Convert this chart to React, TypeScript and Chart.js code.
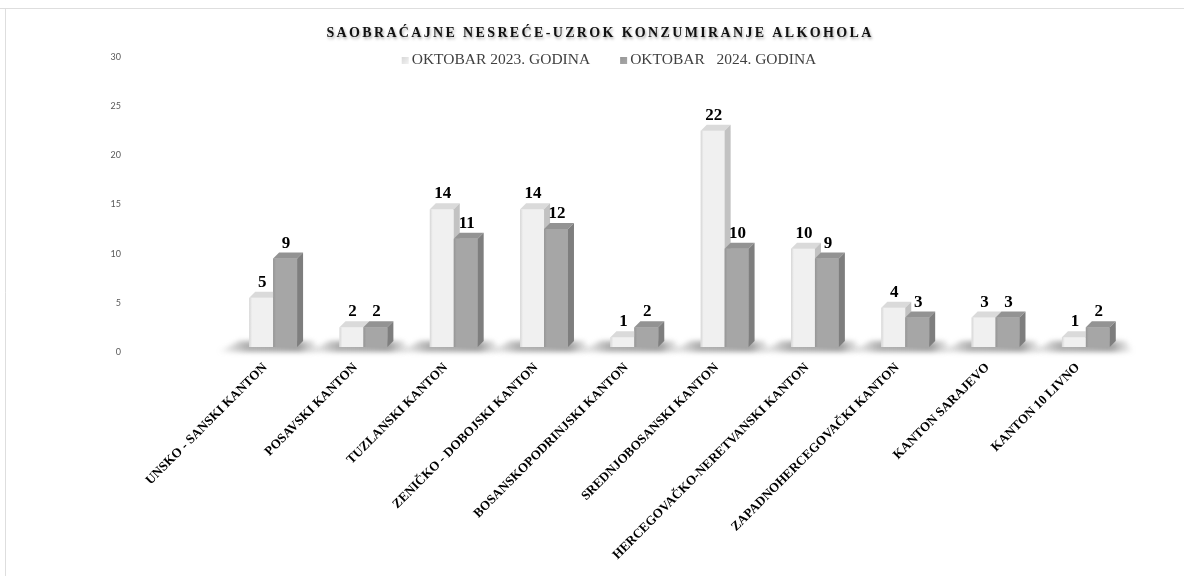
import React, { useEffect, useRef } from 'react';
import { Chart, registerables } from 'chart.js';

Chart.register(...registerables);

// ---- data ----
const CATEGORIES = [
  'UNSKO - SANSKI KANTON',
  'POSAVSKI KANTON',
  'TUZLANSKI KANTON',
  'ZENIČKO - DOBOJSKI KANTON',
  'BOSANSKOPODRINJSKI KANTON',
  'SREDNJOBOSANSKI KANTON',
  'HERCEGOVAČKO-NERETVANSKI KANTON',
  'ZAPADNOHERCEGOVAČKI KANTON',
  'KANTON SARAJEVO',
  'KANTON 10 LIVNO',
];
const OCT_2023 = [5, 2, 14, 14, 1, 22, 10, 4, 3, 1];
const OCT_2024 = [9, 2, 11, 12, 2, 10, 9, 3, 3, 2];
const SERIES_LABELS = ['OKTOBAR 2023. GODINA', 'OKTOBAR   2024. GODINA'];
const TITLE = 'SAOBRAĆAJNE NESREĆE-UZROK KONZUMIRANJE ALKOHOLA';
const Y_MIN = 0;
const Y_MAX = 30;
const Y_STEP = 5;

// ---- styles ----
const W = 1184;
const H = 576;
const FRONT = ['#f0f0f0', '#a6a6a6'];
const FRONT_EDGE = ['#d6d6d6', '#959595'];
const TOP = ['#dadada', '#939393'];
const SIDE = ['#c2c2c2', '#7e7e7e'];
const DEPTH_X = 6;
const DEPTH_Y = 6;
const SERIF = '"Liberation Serif", "DejaVu Serif", serif';

const chromePlugin = {
  id: 'chrome',
  beforeDraw(chart: any) {
    const ctx = chart.ctx;
    ctx.save();
    ctx.fillStyle = '#ffffff';
    ctx.fillRect(0, 0, W, H);
    ctx.strokeStyle = '#dedede';
    ctx.lineWidth = 1;
    ctx.beginPath();
    ctx.moveTo(0, 8.5);
    ctx.lineTo(W, 8.5);
    ctx.moveTo(5.5, 8.5);
    ctx.lineTo(5.5, H);
    ctx.stroke();
    ctx.restore();
  },
  afterDraw(chart: any) {
    const ctx = chart.ctx;
    // title
    ctx.save();
    ctx.font = `bold 14px ${SERIF}`;
    (ctx as any).letterSpacing = '2.35px';
    ctx.textAlign = 'center';
    ctx.textBaseline = 'middle';
    ctx.fillStyle = '#111111';
    ctx.shadowColor = 'rgba(0,0,0,0.35)';
    ctx.shadowBlur = 3;
    ctx.shadowOffsetX = 1;
    ctx.shadowOffsetY = 2;
    ctx.fillText(TITLE, 600, 33);
    ctx.restore();

    // legend
    ctx.save();
    ctx.font = `15.5px ${SERIF}`;
    ctx.textBaseline = 'middle';
    ctx.textAlign = 'left';
    const box = 7;
    const boxGap = 3;
    const itemGap = 30;
    const ds = chart.data.datasets;
    const widths = ds.map((d: any) => box + boxGap + ctx.measureText(d.label).width);
    const total = widths.reduce((a: number, b: number) => a + b, 0) + itemGap * (ds.length - 1);
    let x = 609 - total / 2;
    const yc = 59.5;
    ds.forEach((d: any, i: number) => {
      const g = ctx.createLinearGradient(x, yc - box / 2, x + box, yc + box / 2);
      g.addColorStop(0, FRONT_EDGE[i]);
      g.addColorStop(1, FRONT[i]);
      ctx.fillStyle = g;
      ctx.fillRect(x, yc - box / 2 + 1, box, box);
      ctx.fillStyle = '#404040';
      ctx.fillText(d.label, x + box + boxGap, yc);
      x += widths[i] + itemGap;
    });
    ctx.restore();
  },
};

const bars3dPlugin = {
  id: 'bars3d',
  beforeDatasetsDraw(chart: any) {
    const ctx = chart.ctx;
    const m0 = chart.getDatasetMeta(0).data;
    const m1 = chart.getDatasetMeta(1).data;
    ctx.save();
    ctx.filter = 'blur(2.5px)';
    for (let i = 0; i < m0.length; i++) {
      const a = m0[i].getProps(['x', 'base', 'width'], true);
      const b = m1[i].getProps(['x', 'base', 'width'], true);
      const left = a.x - a.width / 2;
      const right = b.x + b.width / 2 + DEPTH_X;
      const base = a.base;
      const g = ctx.createLinearGradient(left - 32, 0, right + 18, 0);
      const span = right + 18 - (left - 32);
      g.addColorStop(0, 'rgba(120,120,120,0)');
      g.addColorStop(30 / span, 'rgba(110,110,110,0.55)');
      g.addColorStop((span - 22) / span, 'rgba(100,100,100,0.6)');
      g.addColorStop(1, 'rgba(120,120,120,0)');
      ctx.fillStyle = g;
      ctx.beginPath();
      ctx.moveTo(left - 32, base + 5);
      ctx.lineTo(left - 10, base - 6);
      ctx.lineTo(right + 10, base - 6);
      ctx.lineTo(right + 18, base + 5);
      ctx.closePath();
      ctx.fill();
    }
    ctx.restore();
  },
  afterDatasetsDraw(chart: any) {
    const ctx = chart.ctx;
    const n = chart.data.labels.length;
    ctx.save();
    for (let i = 0; i < n; i++) {
      for (let d = 0; d < chart.data.datasets.length; d++) {
        const el = chart.getDatasetMeta(d).data[i];
        const p = el.getProps(['x', 'y', 'base', 'width'], true);
        const l = p.x - p.width / 2;
        const r = p.x + p.width / 2;
        const t = p.y;
        const b = p.base;
        // front
        const g = ctx.createLinearGradient(l, 0, r, 0);
        g.addColorStop(0, FRONT_EDGE[d]);
        g.addColorStop(0.12, FRONT[d]);
        g.addColorStop(1, FRONT[d]);
        ctx.fillStyle = g;
        ctx.fillRect(l, t, r - l, b - t);
        // top
        ctx.fillStyle = TOP[d];
        ctx.beginPath();
        ctx.moveTo(l, t);
        ctx.lineTo(l + DEPTH_X, t - DEPTH_Y);
        ctx.lineTo(r + DEPTH_X, t - DEPTH_Y);
        ctx.lineTo(r, t);
        ctx.closePath();
        ctx.fill();
        // side
        ctx.fillStyle = SIDE[d];
        ctx.beginPath();
        ctx.moveTo(r, t);
        ctx.lineTo(r + DEPTH_X, t - DEPTH_Y);
        ctx.lineTo(r + DEPTH_X, b - DEPTH_Y);
        ctx.lineTo(r, b);
        ctx.closePath();
        ctx.fill();
      }
    }
    // value labels
    ctx.font = `bold 17px ${SERIF}`;
    ctx.fillStyle = '#000000';
    ctx.textAlign = 'center';
    ctx.textBaseline = 'alphabetic';
    chart.data.datasets.forEach((ds: any, d: number) => {
      chart.getDatasetMeta(d).data.forEach((el: any, i: number) => {
        const p = el.getProps(['x', 'y'], true);
        ctx.fillText(String(ds.data[i]), p.x + 1, p.y - 11);
      });
    });
    ctx.restore();
  },
};

export default function App() {
  const ref = useRef<HTMLCanvasElement | null>(null);

  useEffect(() => {
    if (!ref.current) return;
    const chart = new Chart(ref.current, {
      type: 'bar',
      data: {
        labels: CATEGORIES,
        datasets: [
          {
            label: SERIES_LABELS[0],
            data: OCT_2023,
            backgroundColor: FRONT[0],
            borderWidth: 0,
            barPercentage: 1,
            categoryPercentage: 0.53,
          },
          {
            label: SERIES_LABELS[1],
            data: OCT_2024,
            backgroundColor: FRONT[1],
            borderWidth: 0,
            barPercentage: 1,
            categoryPercentage: 0.53,
          },
        ],
      },
      options: {
        responsive: false,
        animation: false,
        devicePixelRatio: 1,
        layout: { padding: { top: 52, right: 53, bottom: 0, left: 0 } },
        plugins: {
          legend: { display: false },
          title: { display: false },
          tooltip: { enabled: false },
        },
        scales: {
          x: {
            grid: { display: false },
            border: { display: false },
            ticks: {
              autoSkip: false,
              maxRotation: 45,
              minRotation: 45,
              padding: 5,
              labelOffset: -8,
              color: '#000000',
              font: { family: SERIF, weight: 'bold', size: 13 },
            },
            afterFit: (s: any) => {
              s.height = 229;
            },
          },
          y: {
            min: Y_MIN,
            max: Y_MAX,
            grid: { display: false },
            border: { display: false },
            ticks: {
              stepSize: Y_STEP,
              padding: 99,
              labelOffset: 5,
              color: '#595959',
              font: { family: 'Lato, "Open Sans", sans-serif', size: 9 },
            },
            afterFit: (s: any) => {
              s.width = 228;
              s.paddingTop = 0;
              s.paddingBottom = 0;
            },
          },
        },
      },
      plugins: [chromePlugin, bars3dPlugin],
    } as any);
    return () => chart.destroy();
  }, []);

  return (
    <div style={{ position: 'fixed', left: 0, top: 0, width: W, height: H, background: '#fff' }}>
      <canvas ref={ref} width={W} height={H} style={{ display: 'block', width: W, height: H }} />
    </div>
  );
}
